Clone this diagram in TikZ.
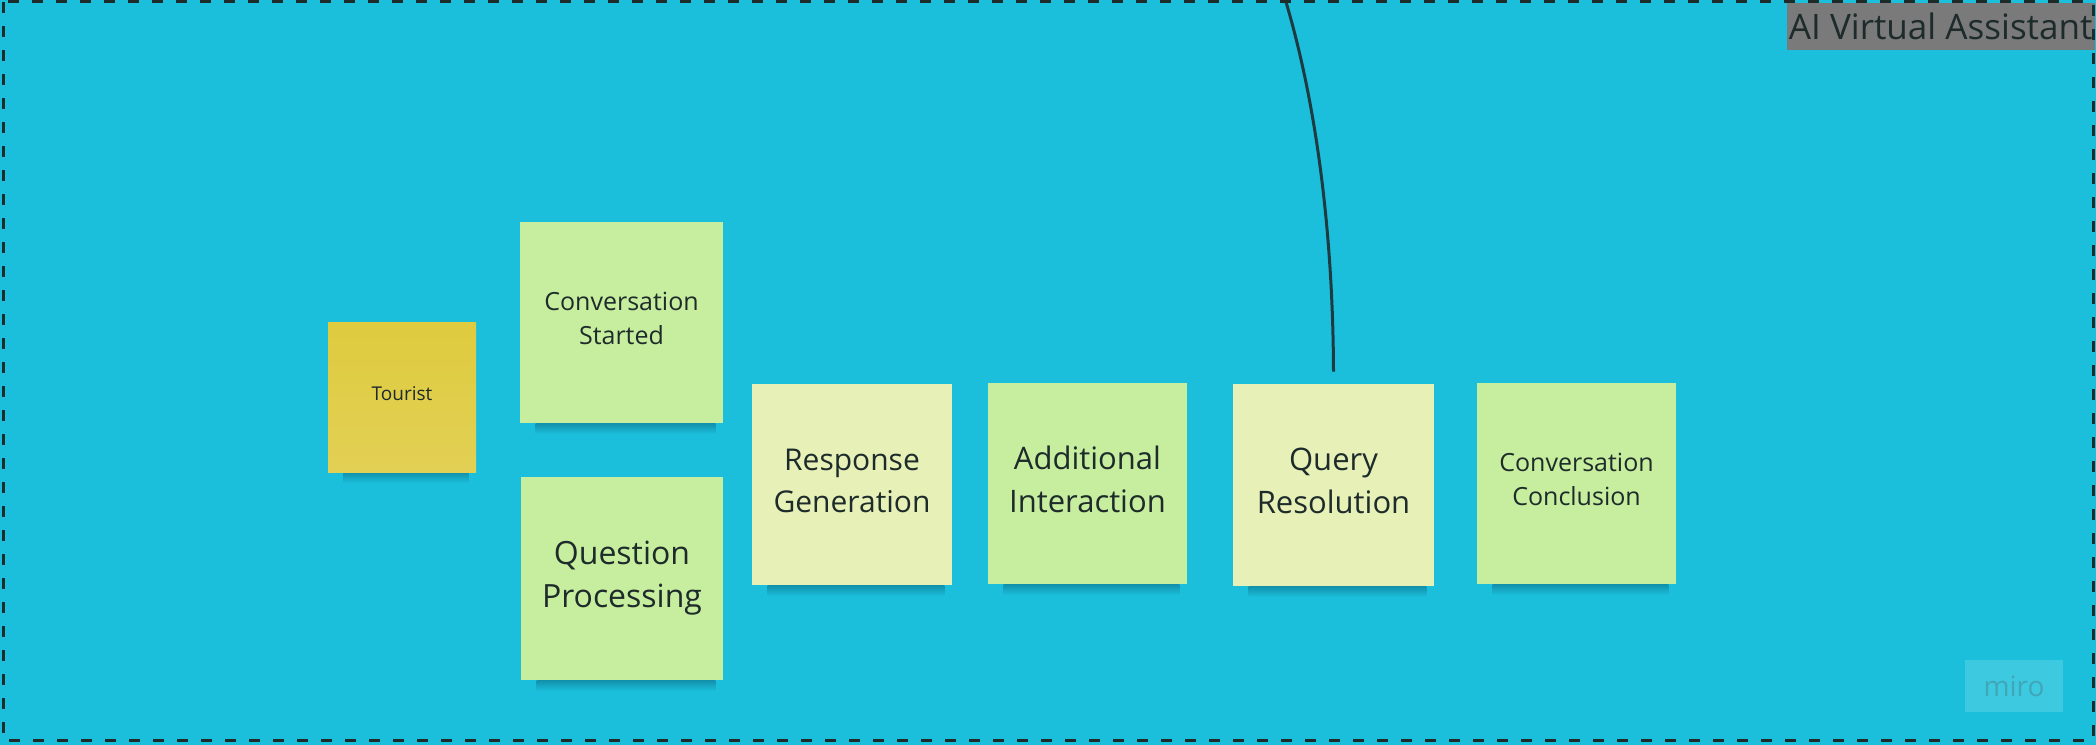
\documentclass[tikz,border=0pt]{standalone}
\usepackage{fontspec}
\setmainfont{Open Sans}
\usetikzlibrary{backgrounds}
\definecolor{bg}{HTML}{1BBFDB}
\definecolor{shadecol}{HTML}{1290AB}
\definecolor{ink}{HTML}{1E2B2B}
\definecolor{yel}{HTML}{DFCB3E}
\definecolor{yelb}{HTML}{E2D055}
\definecolor{grn}{HTML}{C7ED9E}
\definecolor{pale}{HTML}{E6F0B7}
\definecolor{titlegray}{HTML}{7A7A7A}
\definecolor{linecol}{HTML}{1E3B42}
\begin{document}
\begin{tikzpicture}[x=0.75pt,y=-0.75pt,
  sticky/.style={rectangle, inner sep=0pt},
  stext/.style={align=center, text=ink, inner sep=0pt, yshift=3pt},
  fsmall/.style={font={\fontsize{14.25}{19.5}\selectfont}},
  fmid/.style={font={\fontsize{18.75}{25.5}\selectfont}},
  fbig/.style={font={\fontsize{22.5}{31.5}\selectfont}},
  fbigger/.style={font={\fontsize{23.25}{32}\selectfont}},
  fhuge/.style={font={\fontsize{24}{32.5}\selectfont}},
  shadowbar/.style={top color=shadecol, bottom color=bg}]
\useasboundingbox (0,0) rectangle (2096,745);

\node[sticky, top color=yel, bottom color=yelb, minimum width=111pt, minimum height=111.75pt,
  label={[stext,fsmall]center:Tourist}] (tourist) at (402,397.5) {};
\node[sticky, fill=grn, minimum width=152.25pt, minimum height=150.75pt,
  label={[stext,fmid]center:Conversation\\Started}] (convstart) at (621.5,322.5) {};
\node[sticky, fill=grn, minimum width=151.5pt, minimum height=152.25pt,
  label={[stext,fhuge,yshift=-2.5pt]center:Question\\Processing}] (question) at (622,578.5) {};
\node[sticky, fill=pale, minimum width=150pt, minimum height=150.75pt,
  label={[stext,fbig]center:Response\\Generation}] (response) at (852,484.5) {};
\node[sticky, fill=grn, minimum width=149.25pt, minimum height=150.75pt,
  label={[stext,fbigger]center:Additional\\Interaction}] (additional) at (1087.5,483.5) {};
\node[sticky, fill=pale, minimum width=150.75pt, minimum height=151.5pt,
  label={[stext,fbigger]center:Query\\Resolution}] (query) at (1333.5,485) {};
\node[sticky, fill=grn, minimum width=149.25pt, minimum height=150.75pt,
  label={[stext,fmid]center:Conversation\\Conclusion}] (conclusion) at (1576.5,483.5) {};

\begin{scope}[on background layer]
  \fill[bg] (0,0) rectangle (2096,745);
  \foreach \n in {tourist,convstart,question,response,additional,query,conclusion}
    \shade[shadowbar] ([xshift=12pt]\n.south west) rectangle ([xshift=-6pt,yshift=-8pt]\n.south east);
\end{scope}

\node[fill=white!15!bg, text=gray!38!bg, inner sep=0pt, minimum width=73.5pt, minimum height=39pt, font={\fontsize{21}{24}\selectfont}] (miro) at (2014,686) {miro};

\node[fill=titlegray, text=ink, anchor=north east, inner sep=0pt, minimum width=231pt, minimum height=35pt, font={\fontsize{26.3}{30}\selectfont}] (title) at (2095,3) {AI Virtual Assistant};

\coordinate (lineTop) at (1286,2);
\draw[linecol, line width=2.25pt] (lineTop) .. controls (1318,110) and (1333,240) .. ([yshift=9pt]query.north);

\draw[ink, line width=2.25pt, dash pattern=on 8.25pt off 9.75pt] (3,2) rectangle (2093,740);
\end{tikzpicture}
\end{document}
